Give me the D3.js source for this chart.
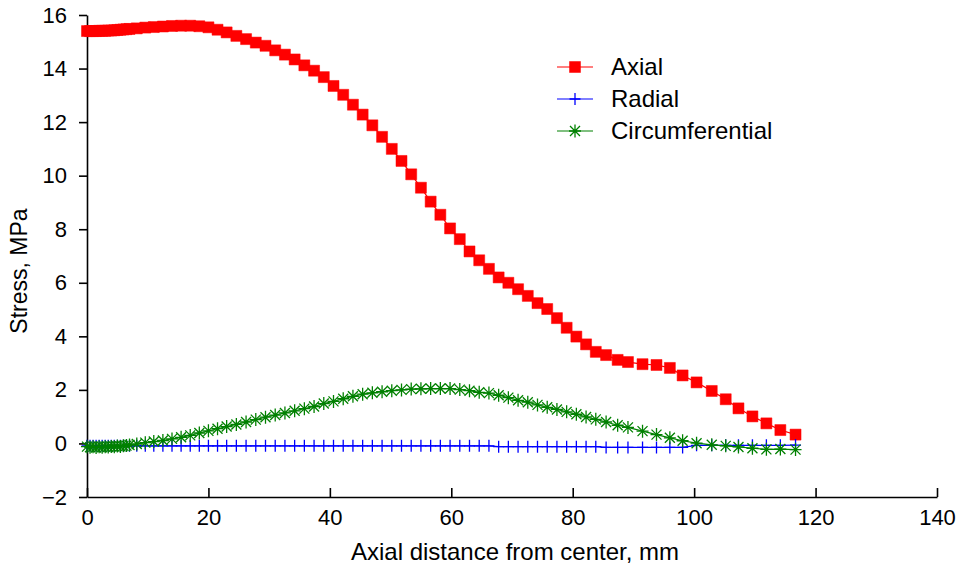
<!DOCTYPE html>
<html>
<head>
  <meta charset="utf-8">
  <title>Stress vs axial distance</title>
  <script src="https://d3js.org/d3.v7.min.js"></script>
  <style>
    body { margin: 0; background: #fff; }
    text { font-family: "Liberation Sans", Arial, sans-serif; fill: #000; }
  </style>
</head>
<body>
  <script>
    // axial distance from center, mm (shared by all three series)
    var distance = [0, 0.5, 1, 1.5, 2, 2.5, 3, 3.5, 4, 4.5, 5, 5.5, 6, 6.5, 7,
      8.2, 9.6, 11, 12.5, 14, 15.5, 17, 18.5, 20, 21.5, 23, 24.6, 26.2, 27.8, 29.4,
      31, 32.6, 34.2, 35.8, 37.4, 39, 40.6, 42.2, 43.8, 45.4, 47, 48.6, 50.2, 51.8,
      53.4, 55, 56.6, 58.2, 59.8, 61.4, 63, 64.6, 66.2, 67.8, 69.4, 71, 72.6, 74.2,
      75.8, 77.4, 79, 80.6, 82.2, 83.8, 85.5, 87.4, 89.1, 91.5, 93.8, 96, 98.1,
      100.4, 102.9, 105.2, 107.3, 109.6, 111.9, 114.2, 116.7];

    var axial = [15.40, 15.40, 15.40, 15.40, 15.41, 15.41, 15.41, 15.42, 15.42, 15.43,
      15.44, 15.45, 15.46, 15.47, 15.48,
      15.50, 15.53, 15.55, 15.57, 15.59, 15.60, 15.60, 15.58, 15.54, 15.45, 15.35,
      15.22, 15.10, 14.97, 14.85, 14.68, 14.52, 14.34, 14.12, 13.92, 13.68, 13.35,
      13.02, 12.65, 12.28, 11.88, 11.45, 11.00, 10.55, 10.05, 9.55, 9.03, 8.54, 8.03,
      7.63, 7.17, 6.84, 6.52, 6.20, 6.00, 5.76, 5.51, 5.24, 5.02, 4.68, 4.32, 3.99,
      3.70, 3.42, 3.30, 3.12, 3.04, 2.96, 2.93, 2.82, 2.54, 2.28, 1.96, 1.65, 1.31,
      1.01, 0.75, 0.50, 0.33];

    var radial = [-0.09, -0.09, -0.09, -0.09, -0.09, -0.09, -0.09, -0.09, -0.09, -0.09,
      -0.09, -0.09, -0.09, -0.09, -0.09,
      -0.09, -0.09, -0.09, -0.09, -0.09, -0.09, -0.09, -0.09, -0.09, -0.09, -0.09,
      -0.09, -0.09, -0.09, -0.09, -0.09, -0.09, -0.09, -0.09, -0.09, -0.09, -0.09,
      -0.09, -0.09, -0.09, -0.09, -0.09, -0.09, -0.09, -0.09, -0.09, -0.09, -0.09,
      -0.09, -0.09, -0.09, -0.09, -0.09, -0.12, -0.12, -0.12, -0.12, -0.12, -0.12,
      -0.12, -0.12, -0.12, -0.12, -0.12, -0.15, -0.15, -0.15, -0.15, -0.15, -0.15,
      -0.15, -0.07, -0.07, -0.07, -0.07, -0.07, -0.07, -0.07, -0.06];

    var circumferential = [-0.12, -0.14, -0.12, -0.15, -0.12, -0.14, -0.12, -0.13,
      -0.11, -0.12, -0.10, -0.11, -0.09, -0.08, -0.06,
      -0.02, 0.03, 0.07, 0.11, 0.17, 0.23, 0.30, 0.39, 0.47, 0.55, 0.63, 0.71, 0.80,
      0.89, 0.98, 1.06, 1.14, 1.22, 1.30, 1.38, 1.49, 1.57, 1.67, 1.76, 1.84, 1.89,
      1.93, 1.97, 2.00, 2.03, 2.04, 2.05, 2.05, 2.05, 2.01, 1.97, 1.91, 1.88, 1.80,
      1.71, 1.61, 1.54, 1.44, 1.35, 1.27, 1.18, 1.09, 0.99, 0.90, 0.80, 0.68, 0.60,
      0.46, 0.33, 0.21, 0.10, 0.01, -0.05, -0.09, -0.13, -0.18, -0.22, -0.21, -0.23];

    var seriesNames = ['Axial', 'Radial', 'Circumferential'];
    var seriesColors = ['#ff0000', '#0000ff', '#008000'];
    var seriesMarkers = ['square', 'plus', 'asterisk'];
    var seriesValues = [axial, radial, circumferential];

    var xTicks = [0, 20, 40, 60, 80, 100, 120, 140];
    var yTicks = [-2, 0, 2, 4, 6, 8, 10, 12, 14, 16];

    var width = 956, height = 567;
    var margin = { top: 15, right: 19, bottom: 70, left: 87 };
    var plotW = width - margin.left - margin.right;
    var plotH = height - margin.top - margin.bottom;

    var svg = d3.select('body').append('svg')
      .attr('width', width)
      .attr('height', height);

    var x = d3.scaleLinear().domain([0, 140]).range([0, plotW]);
    var y = d3.scaleLinear().domain([-2, 16]).range([plotH, 0]);

    var g = svg.append('g')
      .attr('transform', 'translate(' + margin.left + ',' + margin.top + ')');

    // axes
    var xAxis = g.append('g')
      .attr('transform', 'translate(0,' + plotH + ')')
      .call(d3.axisBottom(x).tickValues(xTicks).tickSizeInner(-9).tickSizeOuter(0).tickPadding(12));
    var yAxis = g.append('g')
      .call(d3.axisLeft(y).tickValues(yTicks).tickSizeInner(8).tickSizeOuter(0).tickPadding(12)
        .tickFormat(function(d) { return d < 0 ? '\u2212' + Math.abs(d) : d; }));

    [xAxis, yAxis].forEach(function(a) {
      a.selectAll('path, line').attr('stroke', '#000').attr('stroke-width', 1.6);
      a.selectAll('text').style('font-size', '22px').attr('fill', '#000');
      a.attr('font-family', null);
    });

    svg.append('text')
      .attr('x', margin.left + plotW / 2 + 3)
      .attr('y', 560)
      .attr('text-anchor', 'middle')
      .style('font-size', '24px')
      .text('Axial distance from center, mm');

    svg.append('text')
      .attr('transform', 'translate(27,271) rotate(-90)')
      .attr('text-anchor', 'middle')
      .style('font-size', '23px')
      .text('Stress, MPa');

    function markerPath(type) {
      if (type === 'plus') return 'M-5.5,0H5.5M0,-6V6';
      if (type === 'asterisk') return 'M-6,0H6M0,-6.5V6.5M-5,-5L5,5M-5,5L5,-5';
      return 'M-5.5,-5.5H5.5V5.5H-5.5Z';
    }

    var line = d3.line()
      .x(function(d) { return x(d[0]); })
      .y(function(d) { return y(d[1]); });

    seriesValues.forEach(function(vals, k) {
      var pts = distance.map(function(d, i) { return [d, vals[i]]; });
      var color = seriesColors[k];
      var sg = g.append('g');
      sg.append('path')
        .datum(pts)
        .attr('fill', 'none')
        .attr('stroke', color)
        .attr('stroke-width', 1.2)
        .attr('d', line);
      sg.selectAll('path.mk')
        .data(pts)
        .enter()
        .append('path')
        .attr('class', 'mk')
        .attr('transform', function(d) { return 'translate(' + x(d[0]) + ',' + y(d[1]) + ')'; })
        .attr('d', markerPath(seriesMarkers[k]))
        .attr('fill', seriesMarkers[k] === 'square' ? color : 'none')
        .attr('stroke', color)
        .attr('stroke-width', seriesMarkers[k] === 'square' ? 0.5 : 1.3);
    });

    // legend
    var legend = svg.append('g').attr('transform', 'translate(557,67)');
    seriesNames.forEach(function(name, k) {
      var row = legend.append('g').attr('transform', 'translate(0,' + (k * 32) + ')');
      row.append('line')
        .attr('x1', 0).attr('x2', 36)
        .attr('stroke', seriesColors[k])
        .attr('stroke-width', 1.2);
      row.append('path')
        .attr('transform', 'translate(18,0)')
        .attr('d', markerPath(seriesMarkers[k]))
        .attr('fill', seriesMarkers[k] === 'square' ? seriesColors[k] : 'none')
        .attr('stroke', seriesColors[k])
        .attr('stroke-width', seriesMarkers[k] === 'square' ? 0.5 : 1.3);
      row.append('text')
        .attr('x', 54)
        .attr('dy', '0.35em')
        .style('font-size', '24px')
        .text(name);
    });
  </script>
</body>
</html>
